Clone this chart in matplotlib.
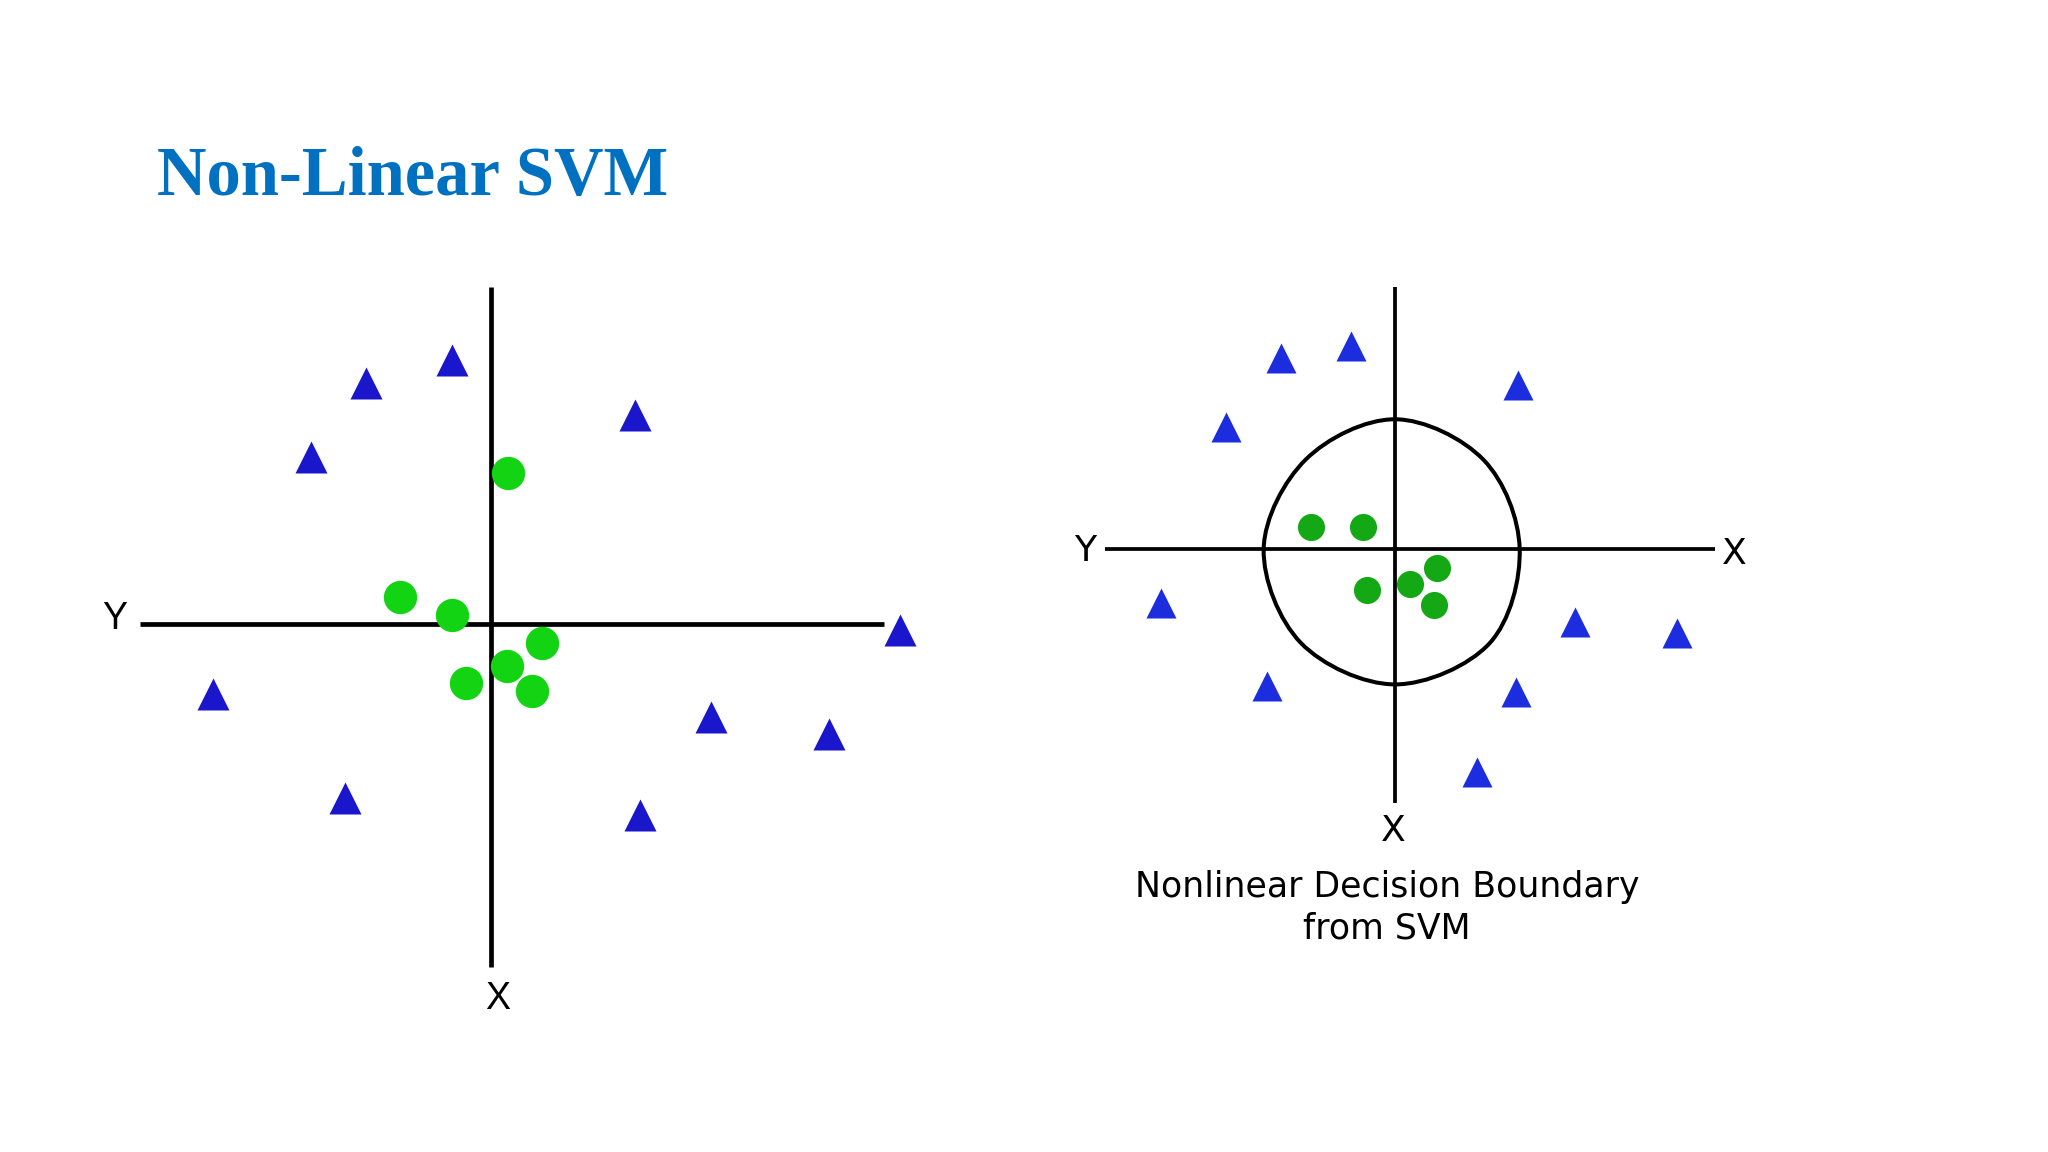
import matplotlib.pyplot as plt
from matplotlib.path import Path
from matplotlib.patches import PathPatch
import numpy as np

# positions relative to the axis crossing (y up)
left_tri_x = [-96, -30, -138, 110, 313, -213, -112, 114, 168, 259]
left_tri_y = [185, 202, 128, 160, -4, -53, -133, -146, -71, -84]
left_dot_x = [13, -70, -30, 39, 12, -19, 31]
left_dot_y = [116, 21, 7, -14, -32, -45, -51]

right_tri_x = [-87, -34, 94, -129, -179, -98, 138, 216, 93, 63]
right_tri_y = [146, 155, 125, 93, -42, -105, -56, -65, -110, -171]
right_dot_x = [-64, -24.5, 32.4, 11.5, -21.4, 29.9]
right_dot_y = [16.6, 16.6, -14.5, -27.3, -31.6, -43.1]

# decision boundary: radius read every 45 degrees, starting at the top, clockwise
bound_angle = [90, 45, 0, -45, -90, -135, 180, 135]
bound_r = [99.0, 96.0, 95.5, 102.5, 104.0, 102.0, 100.5, 96.5]

title = "Non-Linear SVM"
caption = "Nonlinear Decision Boundary\nfrom SVM"

W, H = 1568, 882  # layout units


def smooth_closed(xs, ys):
    # closed Catmull-Rom curve drawn as cubic bezier segments
    p = np.column_stack([xs, ys])
    n = len(p)
    verts = [p[0]]
    codes = [Path.MOVETO]
    for i in range(n):
        p0, p1, p2, p3 = p[i - 1], p[i], p[(i + 1) % n], p[(i + 2) % n]
        verts += [p1 + (p2 - p0) / 6, p2 - (p3 - p1) / 6, p2]
        codes += [Path.CURVE4] * 3
    return Path(verts, codes)


fig = plt.figure(figsize=(20.48, 11.52), dpi=100)

fig.text(120 / W, 1 - 149 / H, title, family="Liberation Serif", weight="bold",
         fontsize=49.4, color="#0070C0", ha="left", va="baseline")

# left panel, origin at (376, 478)
xl, yl = (-300, 340), (-310, 280)
ax = fig.add_axes([(376 + xl[0]) / W, 1 - (478 - yl[0]) / H,
                   (xl[1] - xl[0]) / W, (yl[1] - yl[0]) / H])
ax.set_xlim(*xl)
ax.set_ylim(*yl)
ax.axis("off")
ax.plot([-269, 301], [0, 0], color="black", lw=3.4, solid_capstyle="butt")
ax.plot([0, 0], [-262, 258], color="black", lw=3.4, solid_capstyle="butt")
ax.plot(left_tri_x, left_tri_y, "^", ms=23, color="#1A16CC", mec="none")
ax.plot(left_dot_x, left_dot_y, "o", ms=24, color="#12D412", mec="none")
ax.text(-288, 4, "Y", family="Liberation Sans", fontsize=27, ha="center", va="center")
ax.text(5, -287, "X", family="Liberation Sans", fontsize=27, ha="center", va="center")

# right panel, origin at (1068, 420)
xr, yr = (-250, 290), (-240, 220)
ax2 = fig.add_axes([(1068 + xr[0]) / W, 1 - (420 - yr[0]) / H,
                    (xr[1] - xr[0]) / W, (yr[1] - yr[0]) / H])
ax2.set_xlim(*xr)
ax2.set_ylim(*yr)
ax2.axis("off")
ax2.plot([-222, 245], [0, 0], color="black", lw=2.7, solid_capstyle="butt")
ax2.plot([0, 0], [-195, 200], color="black", lw=2.7, solid_capstyle="butt")
t = np.radians(bound_angle)
bx = np.array(bound_r) * np.cos(t)
by = np.array(bound_r) * np.sin(t)
ax2.add_patch(PathPatch(smooth_closed(bx, by), fill=False, lw=2.9, ec="black"))
ax2.plot(right_tri_x, right_tri_y, "^", ms=22, color="#1C2DE0", mec="none")
ax2.plot(right_dot_x, right_dot_y, "o", ms=19.5, color="#14A814", mec="none")
ax2.text(-237, -2, "Y", family="DejaVu Sans", fontsize=26, ha="center", va="center")
ax2.text(260, -4, "X", family="DejaVu Sans", fontsize=26, ha="center", va="center")
ax2.text(-1, -216, "X", family="DejaVu Sans", fontsize=26, ha="center", va="center")

fig.text(1062 / W, 1 - 666 / H, caption, family="DejaVu Sans", fontsize=25,
         ha="center", va="top", linespacing=1.28)

fig.savefig("out.png", dpi=100, facecolor="white")
